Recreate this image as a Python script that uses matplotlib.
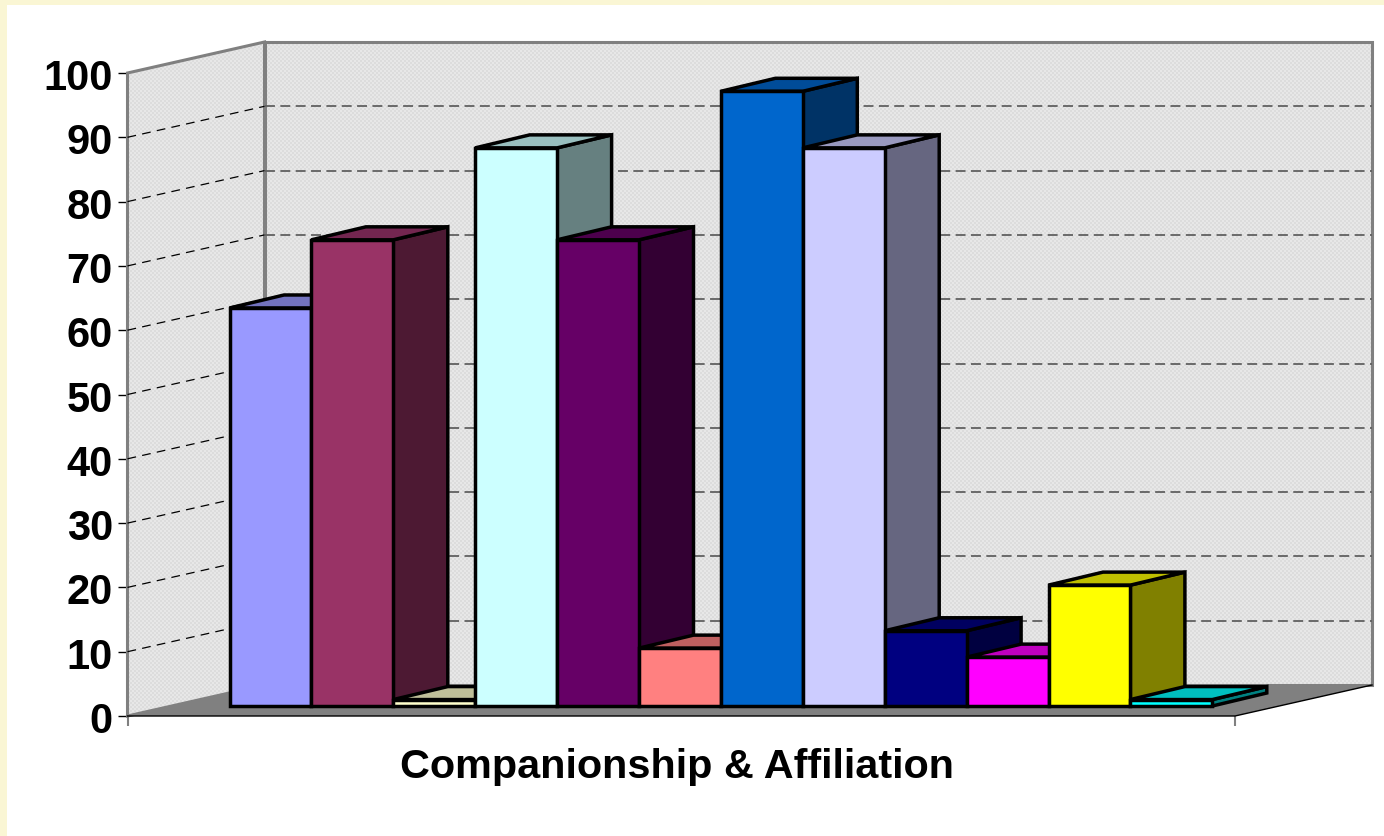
import matplotlib

matplotlib.use("Agg")

import matplotlib.pyplot as plt
import numpy as np
from matplotlib.patches import PathPatch, Polygon, Rectangle
from matplotlib.path import Path
from matplotlib.transforms import ScaledTranslation

WIDTH_PX = 1384
HEIGHT_PX = 836

category_label = "Companionship & Affiliation"
tick_values = [0, 10, 20, 30, 40, 50, 60, 70, 80, 90, 100]
bar_values = [61.9, 72.5, 1.0, 86.8, 72.5, 9.0, 95.6, 86.8, 11.7, 7.6, 18.8, 1.0]
front_colors = ["#9999ff", "#993366", "#ffffcc", "#ccffff", "#660066", "#ff8080",
                "#0066cc", "#ccccff", "#000080", "#ff00ff", "#ffff00", "#00ffff"]
top_colors = ["#7373bf", "#732650", "#bfbf99", "#99bfbf", "#4d004d", "#bf6060",
              "#004c99", "#9999bf", "#000060", "#bf00bf", "#bfbf00", "#00bfbf"]
side_colors = ["#4d4d80", "#4d1933", "#808066", "#668080", "#330033", "#804040",
               "#003366", "#666680", "#000040", "#800080", "#808000", "#008080"]

# front plane of the chart box, in pixels from the top left
BOX_LEFT, BOX_RIGHT = 127.5, 1235.0
BOX_BOTTOM, BOX_TOP = 716.0, 73.0
# how far the back wall sits behind the front plane
WALL_DX_PX, WALL_DY_PX = 137.0, 31.0
# bars run on a unit scale of one bar width
BAR_WIDTH_PX = 81.9
BAR_SHIFT_PX, BAR_LIFT_PX = 102.0, 10.0
BAR_DX_PX, BAR_DY_PX = 54.5, 13.0

BACKGROUND = "#faf6d4"
WALL_EDGE = "#808080"

plt.rcParams["font.family"] = ["Liberation Sans", "DejaVu Sans"]

fig = plt.figure(figsize=(WIDTH_PX / 100, HEIGHT_PX / 100), dpi=100, facecolor=BACKGROUND)
fig.add_artist(Rectangle((7 / WIDTH_PX, 0), 1, 1 - 5 / HEIGHT_PX, transform=fig.transFigure,
                         facecolor="white", edgecolor="none", zorder=0))

# full figure axes holding the dither, one array cell per screen pixel
texture_ax = fig.add_axes([0, 0, 1, 1], zorder=1)
texture_ax.axis("off")
rows, cols = np.indices((HEIGHT_PX, WIDTH_PX))
dither = ((rows // 2 + cols // 2) % 2) * 0.045 + 0.86
wall_image = texture_ax.imshow(dither, cmap="gray", vmin=0, vmax=1, interpolation="nearest",
                               aspect="auto", origin="upper")

# axes cover the front plane: x counts bar widths, y is the value scale
ax = fig.add_axes([BOX_LEFT / WIDTH_PX, 1 - BOX_BOTTOM / HEIGHT_PX,
                   (BOX_RIGHT - BOX_LEFT) / WIDTH_PX, (BOX_BOTTOM - BOX_TOP) / HEIGHT_PX],
                  zorder=2)
ax.set_xlim(0, (BOX_RIGHT - BOX_LEFT) / BAR_WIDTH_PX)
ax.set_ylim(0, 100)
ax.patch.set_visible(False)
for spine in ax.spines.values():
    spine.set_visible(False)

px_x = BAR_WIDTH_PX
px_y = (BOX_BOTTOM - BOX_TOP) / 100
wall_dx, wall_dy = WALL_DX_PX / px_x, WALL_DY_PX / px_y
xmax = ax.get_xlim()[1]


def poly(points, **kwargs):
    defaults = dict(clip_on=False, joinstyle="miter")
    defaults.update(kwargs)
    patch = Polygon(points, closed=True, **defaults)
    ax.add_patch(patch)
    return patch


left_wall = [(0, 0), (wall_dx, wall_dy), (wall_dx, 100 + wall_dy), (0, 100)]
back_wall = [(wall_dx, wall_dy), (xmax + wall_dx, wall_dy),
             (xmax + wall_dx, 100 + wall_dy), (wall_dx, 100 + wall_dy)]
floor = [(0, 0), (xmax, 0), (xmax + wall_dx, wall_dy), (wall_dx, wall_dy)]

wall_outline = Path(left_wall + [left_wall[0]] + back_wall + [back_wall[0]])
wall_clip = PathPatch(wall_outline, transform=ax.transData, facecolor="none", edgecolor="none")
wall_image.set_clip_path(wall_clip)

poly(left_wall, facecolor="none", edgecolor=WALL_EDGE, linewidth=2.2, zorder=2)
poly(back_wall, facecolor="none", edgecolor=WALL_EDGE, linewidth=2.2, zorder=2)
poly(floor, facecolor="#808080", edgecolor="none", zorder=3)
ax.plot([0, xmax, xmax + wall_dx], [0, 0, wall_dy], color="black", lw=1.0,
        clip_on=False, zorder=3)

# grid lines run across both walls
for value in tick_values[1:-1]:
    ax.plot([0, wall_dx], [value, value + wall_dy], color="black", lw=0.9,
            dashes=(7, 5), clip_on=False, zorder=3)
    ax.plot([wall_dx, xmax + wall_dx], [value + wall_dy] * 2, color="#606060", lw=1.3,
            dashes=(5.5, 3), clip_on=False, zorder=3)

# value ticks and labels
ax.set_yticks(tick_values)
ax.tick_params(axis="y", length=7, width=1.0, color="black", pad=3.5)
label_shift = ScaledTranslation(0, -1.5 / 100, fig.dpi_scale_trans)
for label in ax.get_yticklabels():
    label.set_fontsize(30)
    label.set_fontweight("bold")
    label.set_transform(label.get_transform() + label_shift)
ax.set_xticks([0, xmax])
ax.set_xticklabels([])
ax.tick_params(axis="x", length=7, width=1.5, color=WALL_EDGE)

# bars, drawn left to right so each front face hides its neighbour's side
shift = BAR_SHIFT_PX / px_x
lift = BAR_LIFT_PX / px_y
dx, dy = BAR_DX_PX / px_x, BAR_DY_PX / px_y
bar_style = dict(edgecolor="black", linewidth=2.5, zorder=4)
for i, value in enumerate(bar_values):
    x0, x1 = shift + i, shift + i + 1
    y0, y1 = lift, lift + value
    poly([(x1, y0), (x1 + dx, y0 + dy), (x1 + dx, y1 + dy), (x1, y1)],
         facecolor=side_colors[i], **bar_style)
    poly([(x0, y1), (x1, y1), (x1 + dx, y1 + dy), (x0 + dx, y1 + dy)],
         facecolor=top_colors[i], **bar_style)
    poly([(x0, y0), (x1, y0), (x1, y1), (x0, y1)],
         facecolor=front_colors[i], **bar_style)

ax.text(677 / WIDTH_PX, 1 - 767 / HEIGHT_PX, category_label, transform=fig.transFigure,
        ha="center", va="center", fontsize=29.8, fontweight="bold", color="black")

fig.savefig("out.png", dpi=100, facecolor=fig.get_facecolor())
